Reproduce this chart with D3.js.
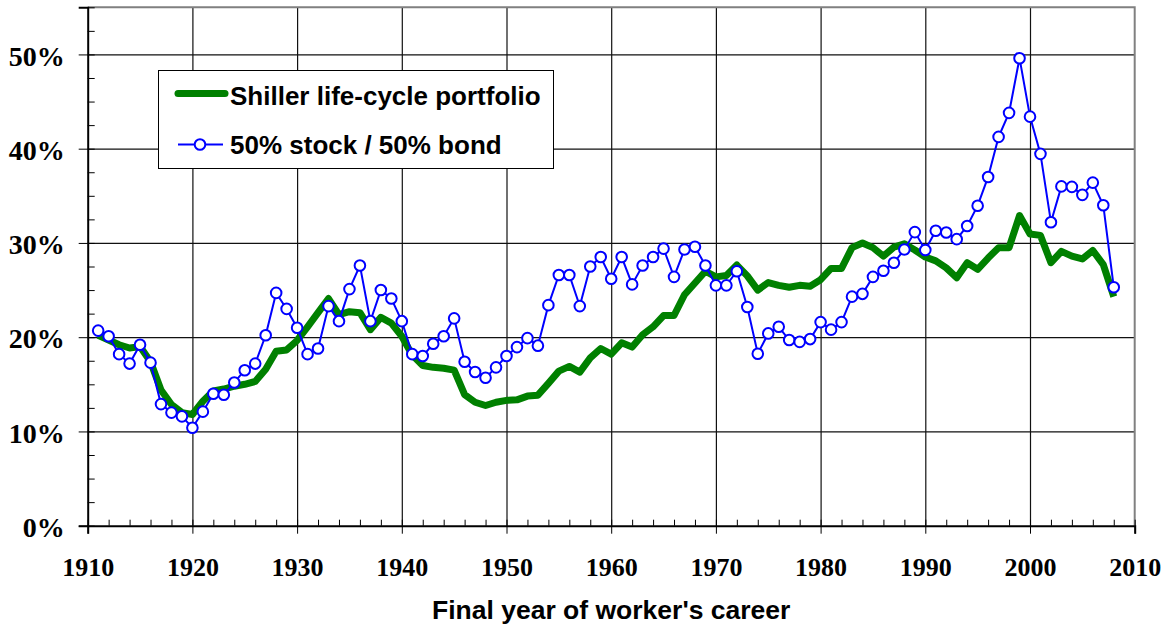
<!DOCTYPE html>
<html>
<head>
<meta charset="utf-8">
<script src="https://cdn.jsdelivr.net/npm/d3@7"></script>
<style>
  body { margin: 0; background: #fff; }
  svg { display: block; }
  .ylab { font-family: "Times New Roman", "Liberation Serif", serif; font-weight: bold; font-size: 28px; }
  .xlab { font-family: "Times New Roman", "Liberation Serif", serif; font-weight: bold; font-size: 26px; }
  .sans { font-family: Arial, "Liberation Sans", sans-serif; font-weight: bold; }
</style>
</head>
<body>
<svg id="chart" width="1167" height="624"></svg>
<script>
// final year of career, one point per year
var years = d3.range(1911, 2009);

// Shiller life-cycle portfolio (%)
var shiller = [
  20.2, 19.7, 19.2, 18.85, 19.0, 17.4, 14.4, 12.85, 12.0, 11.8,
  13.2, 14.3, 14.5, 14.8, 15.0, 15.3, 16.6, 18.5, 18.65, 19.65,
  21.1, 22.6, 24.1, 22.4, 22.7, 22.6, 20.8, 22.1, 21.5, 20.1,
  18.1, 17.0, 16.8, 16.7, 16.5, 13.9, 13.1, 12.75, 13.1, 13.3,
  13.35, 13.75, 13.85, 15.1, 16.4, 16.9, 16.3, 17.8, 18.8, 18.2,
  19.4, 18.95, 20.25, 21.1, 22.3, 22.3, 24.5, 25.75, 27.0, 26.4,
  26.55, 27.65, 26.5, 25.0, 25.8, 25.5, 25.3, 25.5, 25.4, 26.1,
  27.3, 27.3, 29.5, 30.0, 29.5, 28.6, 29.55, 29.9, 29.25, 28.5,
  28.1, 27.35, 26.3, 27.9, 27.2, 28.4, 29.5, 29.5, 32.9, 30.95,
  30.8, 27.9, 29.1, 28.6, 28.3, 29.2, 27.7, 24.3
];

// 50% stock / 50% bond (%)
var fiftyFifty = [
  20.7, 20.1, 18.2, 17.2, 19.2, 17.3, 12.9, 12.0, 11.6, 10.4,
  12.1, 14.0, 13.9, 15.2, 16.5, 17.2, 20.2, 24.7, 23.0, 21.0,
  18.2, 18.8, 23.3, 21.7, 25.1, 27.6, 21.7, 25.0, 24.1, 21.7,
  18.2, 18.0, 19.3, 20.1, 22.0, 17.4, 16.3, 15.7, 16.8, 18.0,
  18.95, 19.9, 19.1, 23.4, 26.6, 26.6, 23.3, 27.5, 28.5, 26.2,
  28.5, 25.6, 27.6, 28.5, 29.4, 26.4, 29.3, 29.6, 27.6, 25.5,
  25.5, 27.0, 23.2, 18.25, 20.4, 21.1, 19.7, 19.5, 19.8, 21.6,
  20.8, 21.6, 24.3, 24.6, 26.4, 27.05, 27.9, 29.3, 31.15, 29.25,
  31.3, 31.1, 30.4, 31.8, 33.95, 37.0, 41.25, 43.8, 49.6, 43.4,
  39.45, 32.2, 36.0, 35.95, 35.1, 36.4, 34.0, 25.3
];

var seriesNames = ["Shiller life-cycle portfolio", "50% stock / 50% bond"];
var yTicks = [0, 10, 20, 30, 40, 50];
var yMinor = d3.range(0, 55.1, 2.5);
var xTicks = [1910, 1920, 1930, 1940, 1950, 1960, 1970, 1980, 1990, 2000, 2010];
var xMinor = d3.range(1910, 2011, 2);

var plotL = 87.7, plotR = 1134.7, plotT = 7.3, plotB = 525.7;

var x = d3.scaleLinear().domain([1910, 2010]).range([plotL, plotR]);
var y = d3.scaleLinear().domain([0, 55]).range([plotB, plotT]);

var svg = d3.select('#chart');

// gridlines
svg.append('g')
  .attr('transform', 'translate(0,' + plotB + ')')
  .call(d3.axisBottom(x).tickValues(xTicks.slice(1, -1)).tickSize(-(plotB - plotT)).tickFormat(''))
  .call(g => g.select('.domain').remove())
  .selectAll('line').attr('stroke', '#111').attr('stroke-width', 1.2);

svg.append('g')
  .attr('transform', 'translate(' + plotL + ',0)')
  .call(d3.axisLeft(y).tickValues(yTicks.slice(1)).tickSize(-(plotR - plotL)).tickFormat(''))
  .call(g => g.select('.domain').remove())
  .selectAll('line').attr('stroke', '#111').attr('stroke-width', 1.2);

// frame top / right
svg.append('path')
  .attr('d', 'M' + plotL + ',' + plotT + 'H' + plotR + 'V' + plotB)
  .attr('fill', 'none').attr('stroke', '#808080').attr('stroke-width', 2);

// y axis
var yAxis = svg.append('g')
  .attr('transform', 'translate(' + plotL + ',0)')
  .call(d3.axisLeft(y).tickValues(yTicks).tickSize(9).tickPadding(14).tickFormat(d => d + '%'));
yAxis.select('.domain').attr('stroke', '#000').attr('stroke-width', 2);
yAxis.selectAll('text').attr('class', 'ylab').attr('fill', '#000').attr('dy', '0.38em');

svg.append('g')
  .attr('transform', 'translate(' + plotL + ',0)')
  .call(d3.axisRight(y).tickValues(yMinor).tickSize(7).tickFormat(''))
  .call(g => g.select('.domain').remove());

// x axis
var xAxis = svg.append('g')
  .attr('transform', 'translate(0,' + plotB + ')')
  .call(d3.axisBottom(x).tickValues(xTicks).tickSize(8).tickPadding(24).tickFormat(d3.format('d')));
xAxis.select('.domain').attr('stroke', '#000').attr('stroke-width', 2);
xAxis.selectAll('text').attr('class', 'xlab').attr('fill', '#000');

svg.append('g')
  .attr('transform', 'translate(0,' + plotB + ')')
  .call(d3.axisTop(x).tickValues(xMinor).tickSize(6).tickFormat(''))
  .call(g => g.select('.domain').remove());

svg.append('text')
  .attr('class', 'sans')
  .attr('x', (plotL + plotR) / 2)
  .attr('y', 619)
  .attr('text-anchor', 'middle')
  .attr('font-size', 26.5)
  .text("Final year of worker's career");

// series
var line = d3.line()
  .x((d, i) => x(years[i]))
  .y(d => y(d));

svg.append('path')
  .datum(shiller)
  .attr('d', line)
  .attr('fill', 'none')
  .attr('stroke', '#008000')
  .attr('stroke-width', 7)
  .attr('stroke-linejoin', 'round');

svg.append('path')
  .datum(fiftyFifty)
  .attr('d', line)
  .attr('fill', 'none')
  .attr('stroke', '#0000ff')
  .attr('stroke-width', 2);

svg.append('g').selectAll('circle')
  .data(fiftyFifty)
  .enter().append('circle')
  .attr('cx', (d, i) => x(years[i]))
  .attr('cy', d => y(d))
  .attr('r', 5.3)
  .attr('fill', '#fff')
  .attr('stroke', '#0000ff')
  .attr('stroke-width', 2);

// legend
var legend = svg.append('g');
legend.append('rect')
  .attr('x', 158.5).attr('y', 70.5)
  .attr('width', 395).attr('height', 98)
  .attr('fill', '#fff').attr('stroke', '#000').attr('stroke-width', 1);

legend.append('line')
  .attr('x1', 178).attr('x2', 225).attr('y1', 93.5).attr('y2', 93.5)
  .attr('stroke', '#008000').attr('stroke-width', 7).attr('stroke-linecap', 'round');
legend.append('line')
  .attr('x1', 178).attr('x2', 223).attr('y1', 144.5).attr('y2', 144.5)
  .attr('stroke', '#0000ff').attr('stroke-width', 2);
legend.append('circle')
  .attr('cx', 200).attr('cy', 144.5).attr('r', 5.3)
  .attr('fill', '#fff').attr('stroke', '#0000ff').attr('stroke-width', 2);

legend.selectAll('text.leg')
  .data(seriesNames)
  .enter().append('text')
  .attr('class', 'sans leg')
  .attr('x', 230)
  .attr('y', (d, i) => 104.5 + i * 49)
  .attr('font-size', 26)
  .text(d => d);
</script>
</body>
</html>
